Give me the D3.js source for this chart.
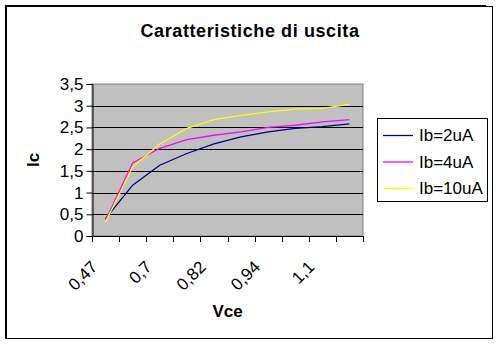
<!DOCTYPE html>
<html>
<head>
<meta charset="utf-8">
<script src="https://cdn.jsdelivr.net/npm/d3@7"></script>
<style>
  body { margin: 0; background: #fff; }
  svg text { font-family: Arial, "Liberation Sans", sans-serif; }
</style>
</head>
<body>
<svg id="chart" width="502" height="346"></svg>
<script>
// Vce categories (only every other label is shown on the axis)
var vce = ["0,47", "0,6", "0,7", "0,76", "0,82", "0,88", "0,94", "1", "1,1", "1,2"];
var ib2 = [0.40, 1.17, 1.63, 1.90, 2.12, 2.28, 2.40, 2.48, 2.52, 2.58];
var ib4 = [0.36, 1.68, 2.02, 2.22, 2.32, 2.40, 2.50, 2.55, 2.63, 2.68];
var ib10 = [0.32, 1.59, 2.12, 2.48, 2.68, 2.78, 2.86, 2.92, 2.94, 3.03];
var yTicks = [0, 0.5, 1, 1.5, 2, 2.5, 3, 3.5];

var series = [
  { name: "Ib=2uA", values: ib2, color: "#000080" },
  { name: "Ib=4uA", values: ib4, color: "#ff00ff" },
  { name: "Ib=10uA", values: ib10, color: "#ffff00" }
];

var svg = d3.select("#chart");

// chart frame
svg.append("rect")
  .attr("x", 6.5).attr("y", 6.5).attr("width", 486).attr("height", 332)
  .attr("fill", "#fff").attr("stroke", "#000").attr("stroke-width", 1);
svg.append("line").attr("x1", 6).attr("x2", 6).attr("y1", 5).attr("y2", 339)
  .attr("stroke", "#000").attr("stroke-width", 2);
svg.append("line").attr("x1", 5).attr("x2", 486).attr("y1", 6).attr("y2", 6)
  .attr("stroke", "#000").attr("stroke-width", 2);

var pLeft = 92, pRight = 363, pTop = 84, pBottom = 236;

var x = d3.scaleBand().domain(vce).range([pLeft, pRight]).padding(0);
var y = d3.scaleLinear().domain([0, 3.5]).range([pBottom, pTop]);
var bw = x.bandwidth();

// plot area
svg.append("rect")
  .attr("x", pLeft).attr("y", pTop).attr("width", pRight - pLeft).attr("height", pBottom - pTop)
  .attr("fill", "#c0c0c0").attr("stroke", "#808080").attr("stroke-width", 1);

// gridlines
svg.append("g").selectAll("line")
  .data(yTicks.filter(function (d) { return d > 0 && d < 3.5; }))
  .join("line")
  .attr("x1", pLeft).attr("x2", pRight)
  .attr("y1", function (d) { return Math.round(y(d)) + 0.5; })
  .attr("y2", function (d) { return Math.round(y(d)) + 0.5; })
  .attr("stroke", "#000");

// y axis
var yAxis = svg.append("g")
  .attr("transform", "translate(" + (pLeft + 0.5) + ",0)")
  .call(d3.axisLeft(y).tickValues(yTicks).tickSize(6).tickPadding(3)
    .tickFormat(function (d) { return String(d).replace(".", ","); }));
yAxis.select(".domain").attr("stroke", "#000");
yAxis.selectAll("text").attr("font-size", 17).attr("fill", "#000")
  .attr("font-family", "Arial, 'Liberation Sans', sans-serif");

// x axis
var xg = svg.append("g");
xg.append("line")
  .attr("x1", pLeft).attr("x2", pRight)
  .attr("y1", pBottom + 0.5).attr("y2", pBottom + 0.5)
  .attr("stroke", "#000");
var edges = vce.map(function (c) { return x(c); }).concat([pRight]);
xg.selectAll("line.tick")
  .data(edges)
  .join("line").attr("class", "tick")
  .attr("x1", function (d) { return Math.round(d) + 0.5; })
  .attr("x2", function (d) { return Math.round(d) + 0.5; })
  .attr("y1", pBottom).attr("y2", pBottom + 6)
  .attr("stroke", "#000");
xg.selectAll("text")
  .data(vce.filter(function (d, i) { return i % 2 === 0; }))
  .join("text")
  .attr("text-anchor", "end")
  .attr("font-size", 17)
  .attr("transform", function (d) {
    return "translate(" + (x(d) + bw / 2 - 7) + "," + 268 + ") rotate(-45)";
  })
  .text(function (d) { return d; });

// lines
var line = d3.line()
  .x(function (d, i) { return x(vce[i]) + bw / 2; })
  .y(function (d) { return y(d); });

svg.append("g").selectAll("path")
  .data(series)
  .join("path")
  .attr("d", function (s) { return line(s.values); })
  .attr("fill", "none")
  .attr("stroke", function (s) { return s.color; })
  .attr("stroke-width", 1.3);

// titles
svg.append("text")
  .attr("x", 250).attr("y", 37)
  .attr("text-anchor", "middle")
  .attr("font-size", 18).attr("font-weight", "bold")
  .attr("letter-spacing", 0.6)
  .text("Caratteristiche di uscita");

svg.append("text")
  .attr("x", (pLeft + pRight) / 2).attr("y", 317)
  .attr("text-anchor", "middle")
  .attr("font-size", 17).attr("font-weight", "bold")
  .text("Vce");

svg.append("text")
  .attr("transform", "translate(39," + (pTop + pBottom) / 2 + ") rotate(-90)")
  .attr("text-anchor", "middle")
  .attr("font-size", 17).attr("font-weight", "bold")
  .text("Ic");

// legend
var lg = svg.append("g");
lg.append("rect")
  .attr("x", 377.5).attr("y", 118.5).attr("width", 110).attr("height", 83)
  .attr("fill", "#fff").attr("stroke", "#000");
var items = lg.selectAll("g.item")
  .data(series)
  .join("g").attr("class", "item")
  .attr("transform", function (d, i) { return "translate(383," + (135 + i * 26.5) + ")"; });
items.append("line")
  .attr("x1", 0).attr("x2", 30).attr("y1", 0.5).attr("y2", 0.5)
  .attr("stroke", function (d) { return d.color; }).attr("stroke-width", 1.3);
items.append("text")
  .attr("x", 36).attr("y", 6)
  .attr("font-size", 17)
  .text(function (d) { return d.name; });
</script>
</body>
</html>
